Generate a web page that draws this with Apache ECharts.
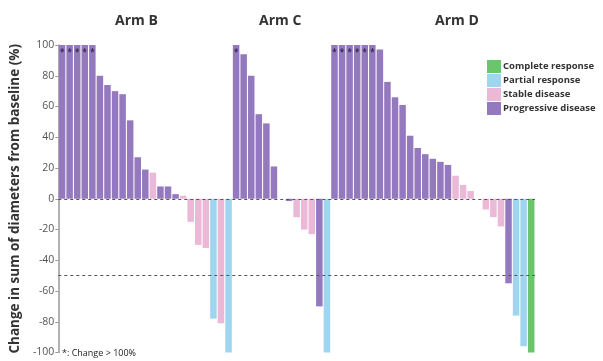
<!DOCTYPE html>
<html><head><meta charset="utf-8">
<script src="https://cdn.jsdelivr.net/npm/echarts@6/dist/echarts.min.js"></script>
<style>html,body{margin:0;padding:0;background:#fff}#c{width:603px;height:361px}</style>
</head><body><div id="c"></div>
<script>
const armNames = ['Arm B', 'Arm C', 'Arm D'];
const armBValues = [100,100,100,100,100,80,74,70,68,51,27,19,17,8,8,3,2,-15,-30,-32,-78,-81,-100];
const armBResp = ['PD','PD','PD','PD','PD','PD','PD','PD','PD','PD','PD','PD','SD','PD','PD','PD','SD','SD','SD','SD','PR','SD','PR'];
const armBOver100 = [1,1,1,1,1,0,0,0,0,0,0,0,0,0,0,0,0,0,0,0,0,0,0];
const armCValues = [100,94,80,55,49,21,0,-1.5,-12,-20,-23,-70,-100];
const armCResp = ['PD','PD','PD','PD','PD','PD','PD','PD','SD','SD','SD','PD','PR'];
const armCOver100 = [1,0,0,0,0,0,0,0,0,0,0,0,0];
const armDValues = [100,100,100,100,100,100,97,76,66,61,41,33,29,26,24,22,15,9,5,0,-7,-12,-18,-55,-76,-96,-100];
const armDResp = ['PD','PD','PD','PD','PD','PD','PD','PD','PD','PD','PD','PD','PD','PD','PD','PD','SD','SD','SD','SD','SD','SD','SD','PD','PR','PR','CR'];
const armDOver100 = [1,1,1,1,1,1,0,0,0,0,0,0,0,0,0,0,0,0,0,0,0,0,0,0,0,0,0];
const responseCodes = ['CR','PR','SD','PD'];
const responseNames = ['Complete response','Partial response','Stable disease','Progressive disease'];
const responseColors = ['#6cc46c','#a0d5f0','#ebb8d8','#9479bf'];
const yTicks = [-100,-80,-60,-40,-20,0,20,40,60,80,100];

const values = armBValues.concat(armCValues, armDValues);
const resp = armBResp.concat(armCResp, armDResp);
const over = armBOver100.concat(armCOver100, armDOver100);
const categories = armBValues.map((v,i)=>'B'+(i+1))
  .concat(armCValues.map((v,i)=>'C'+(i+1)), armDValues.map((v,i)=>'D'+(i+1)));

const series = responseCodes.map((code, k) => ({
  name: responseNames[k],
  type: 'bar',
  stack: 'all',
  barCategoryGap: '14%',
  itemStyle: { color: responseColors[k] },
  data: values.map((v, i) => resp[i] !== code ? '-' : (over[i] ? {
    value: v,
    label: { show: true, position: 'insideTop', distance: 4, formatter: '*', color: '#3a2a55', fontSize: 8, fontWeight: 'bold' }
  } : v)),
  markLine: k === 0 ? {
    silent: true, symbol: 'none', label: { show: false },
    lineStyle: { type: [3, 3], color: '#555', width: 1 },
    data: [{ yAxis: 0 }, { yAxis: -50 }]
  } : undefined
}));

const titleStyle = { fontSize: 14, fontWeight: 'bold', color: '#333', fontFamily: 'Open Sans' };
const chart = echarts.init(document.getElementById('c'));
chart.setOption({
  animation: false,
  textStyle: { fontFamily: 'Open Sans' },
  grid: { left: 57, right: 68, top: 45, bottom: 8.5, containLabel: false },
  title: [
    { text: armNames[0], left: 110, top: 9, textStyle: titleStyle },
    { text: armNames[1], left: 254, top: 9, textStyle: titleStyle },
    { text: armNames[2], left: 430, top: 9, textStyle: titleStyle },
    { text: '*: Change > 100%', left: 57, top: 344, textStyle: { fontSize: 9, fontWeight: 'normal', color: '#222', fontFamily: 'Open Sans' } }
  ],
  legend: {
    data: responseNames, orient: 'vertical', left: 482, top: 55,
    icon: 'rect', itemWidth: 14, itemHeight: 13, itemGap: 1,
    textStyle: { fontSize: 9.5, fontWeight: 'bold', color: '#333', padding: [0,0,0,-3] }
  },
  xAxis: {
    type: 'category', data: categories,
    axisLine: { show: false }, axisTick: { show: false }, axisLabel: { show: false }, splitLine: { show: false }
  },
  yAxis: {
    type: 'value', min: yTicks[0], max: yTicks[yTicks.length-1], interval: 20,
    name: 'Change in sum of diameters from baseline (%)', nameLocation: 'middle', nameGap: 33,
    nameTextStyle: { fontSize: 13.5, fontWeight: 'bold', color: '#333' },
    axisLine: { show: true, lineStyle: { color: '#999', width: 1.5 } },
    axisTick: { show: true, length: 3, lineStyle: { color: '#999' } },
    axisLabel: { fontSize: 10.5, color: '#555', margin: 4 },
    splitLine: { show: false }
  },
  series: series
});
</script></body></html>
